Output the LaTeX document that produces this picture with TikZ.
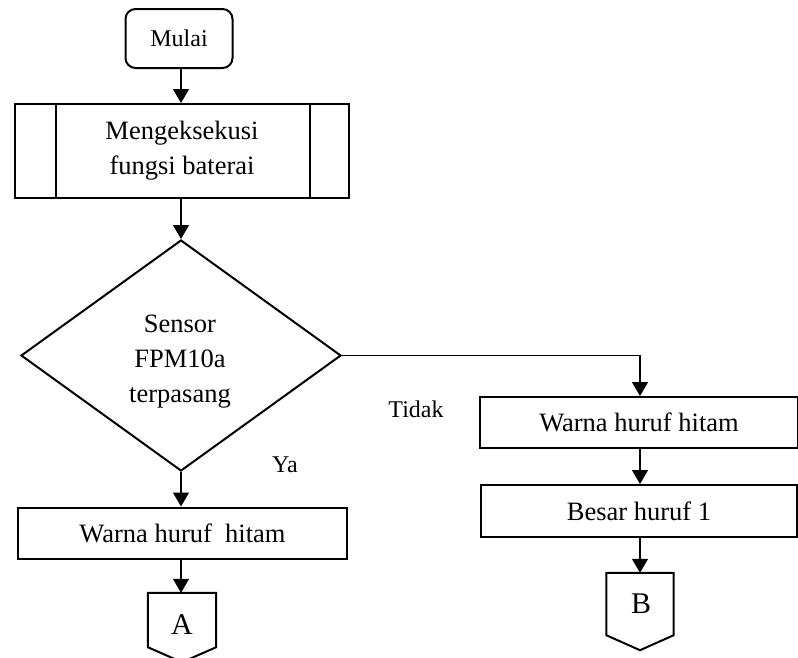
\documentclass[tikz,border=0pt]{standalone}
\usepackage{fontspec}
\setmainfont{Liberation Serif}
\usetikzlibrary{arrows.meta,shapes.geometric}
\begin{document}
\begin{tikzpicture}[x=1pt,y=-1pt,
  txt/.style={font=\fontsize{24}{32}\selectfont},
  big/.style={font=\fontsize{26.5}{35}\selectfont},
  box/.style={draw,line width=2pt,inner sep=0pt,big,align=center},
  conn/.style={line width=1.2pt,-{Triangle[width=16pt,length=14pt]}},
  edge/.style={line width=2pt,line join=miter}]
\useasboundingbox (0,0) rectangle (798,657);
% start
\node[box,txt,rounded corners=10pt,minimum width=107pt,minimum height=59pt] (start) at (179,38.5) {Mulai};
% predefined process
\node[box,minimum width=334pt,minimum height=94pt] (proc) at (182,151) {Mengeksekusi\\fungsi baterai};
\draw[edge] ([xshift=42pt]proc.north west) -- ([xshift=42pt]proc.south west);
\draw[edge] ([xshift=-40pt]proc.north east) -- ([xshift=-40pt]proc.south east);
% decision
\node[draw,line width=2pt,diamond,inner sep=0pt,minimum width=320pt,minimum height=231pt] (dec) at (181,355.5) {};
\node[big,align=center,inner sep=0pt] (dectext) at (180,362) {Sensor\\FPM10a\\terpasang};
% left branch
\node[box,minimum width=329pt,minimum height=51pt] (lbox) at (182.5,533) {Warna huruf\ \ hitam};
\node[minimum width=68pt,minimum height=54pt,inner sep=0pt] (A) at (182,620) {};
\node[font=\fontsize{30}{36}\selectfont,inner sep=0pt] (Atext) at (182,625) {A};
\draw[edge] (A.south west) -- (A.north west) -- (A.north east) -- (A.south east) -- ([yshift=-15pt]A.south) -- cycle;
% right branch
\node[box,minimum width=318pt,minimum height=51pt] (rbox1) at (639,422.5) {Warna huruf hitam};
\node[box,minimum width=316pt,minimum height=52pt] (rbox2) at (639,511) {Besar huruf 1};
\node[minimum width=67pt,minimum height=62pt,inner sep=0pt] (B) at (640,604) {};
\node[font=\fontsize{30}{36}\selectfont,inner sep=0pt] (Btext) at (641,604) {B};
\draw[edge] (B.south west) -- (B.north west) -- (B.north east) -- (B.south east) -- ([yshift=-15pt]B.south) -- cycle;
% labels
\node[txt,inner sep=0pt] (tidak) at (416,409) {Tidak};
\node[txt,inner sep=0pt] (ya) at (285,465) {Ya};
% connectors
\draw[conn] (start.south -| dec.north) -- (dec.north |- proc.north);
\draw[conn] (dec.north |- proc.south) -- (dec.north);
\draw[conn] (dec.south) -- (dec.south |- lbox.north);
\draw[conn] (dec.south |- lbox.south) -- (dec.south |- A.north);
\draw[conn] (dec.east) -| (B.north |- rbox1.north);
\draw[conn] (B.north |- rbox1.south) -- (B.north |- rbox2.north);
\draw[conn] (B.north |- rbox2.south) -- (B.north);
\end{tikzpicture}
\end{document}
